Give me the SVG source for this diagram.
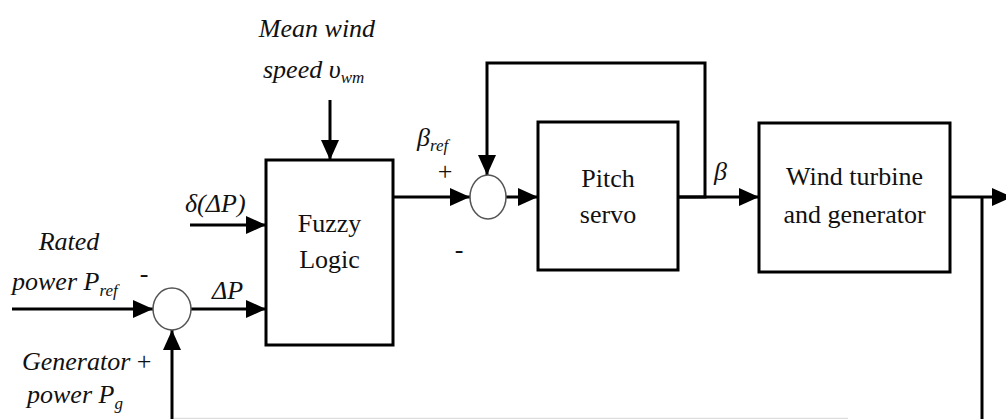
<svg xmlns="http://www.w3.org/2000/svg" width="1006" height="419" viewBox="0 0 1006 419">
<style>
.box{fill:none;stroke:#000;stroke-width:3}
.sum{fill:#fff;stroke:#555;stroke-width:1.5}
.ln{fill:none;stroke:#000;stroke-width:3}
text{font-family:'Liberation Serif','DejaVu Serif','Times New Roman',serif;font-size:26px;fill:#111}
.i{font-style:italic}
.sub{font-size:17px}
</style>
<defs>
<marker id="ah" markerUnits="userSpaceOnUse" markerWidth="21" markerHeight="20" refX="20" refY="10" orient="auto">
<path d="M0,1 L20,10 L0,19 z" fill="#000"/>
</marker>
</defs>
<rect width="1006" height="419" fill="#fff"/>
<g id="connectors">
<path class="ln" d="M330,100 L330,160" marker-end="url(#ah)"/>
<path class="ln" d="M190,225 L266,225" marker-end="url(#ah)"/>
<path class="ln" d="M12,309 L153,309" marker-end="url(#ah)"/>
<path class="ln" d="M191,309 L266,309" marker-end="url(#ah)"/>
<path class="ln" d="M172,419 L172,330" marker-end="url(#ah)"/>
<path d="M174,418.5 L848,418.5" stroke="#ddd" stroke-width="1.5" fill="none"/>
<path class="ln" d="M393,197 L470,197" marker-end="url(#ah)"/>
<path class="ln" d="M506,197 L538,197" marker-end="url(#ah)"/>
<path class="ln" d="M678,197 L705,197 L705,63 L487,63 L487,175" marker-end="url(#ah)"/>
<path class="ln" d="M678,197 L759,197" marker-end="url(#ah)"/>
<path class="ln" d="M950,197 L1012,197" marker-end="url(#ah)"/>
<path class="ln" d="M982,197 L982,419"/>
</g>
<g id="fuzzy" font-family="Liberation Serif, serif">
<rect class="box" x="266" y="160" width="127" height="185"/>
<text x="329.5" y="232" text-anchor="middle">Fuzzy</text>
<text x="329.5" y="268" text-anchor="middle">Logic</text>
</g>
<g id="sum1">
<ellipse class="sum" cx="172" cy="309" rx="19" ry="21"/>
</g>
<g id="sum2">
<ellipse class="sum" cx="488" cy="197" rx="18" ry="22"/>
</g>
<g id="pitch">
<rect class="box" x="538" y="122" width="140" height="148"/>
<text x="608" y="187" text-anchor="middle">Pitch</text>
<text x="608" y="223" text-anchor="middle">servo</text>
</g>
<g id="turbine">
<rect class="box" x="759" y="123" width="191" height="149"/>
<text x="854.5" y="185" text-anchor="middle">Wind turbine</text>
<text x="854.5" y="223" text-anchor="middle">and generator</text>
</g>
<g id="labels">
<text class="i" x="317" y="37" text-anchor="middle">Mean wind</text>
<text class="i" x="263" y="78">speed υ<tspan class="sub" dy="5">wm</tspan></text>
<text class="i" x="185" y="212">δ(ΔP)</text>
<text class="i" x="212" y="299">ΔP</text>
<text class="i" x="69" y="250" text-anchor="middle">Rated</text>
<text class="i" x="12" y="290">power P<tspan class="sub" dy="6">ref</tspan></text>
<text x="144" y="282" text-anchor="middle">-</text>
<text class="i" x="22" y="370">Generator <tspan font-style="normal">+</tspan></text>
<text class="i" x="27" y="403">power P<tspan class="sub" dy="6">g</tspan></text>
<text class="i" x="417" y="146">β<tspan class="sub" dy="5">ref</tspan></text>
<text x="445" y="180" text-anchor="middle" fill="#444">+</text>
<text x="459" y="258" text-anchor="middle">-</text>
<text class="i" x="714" y="180">β</text>
</g>
</svg>
